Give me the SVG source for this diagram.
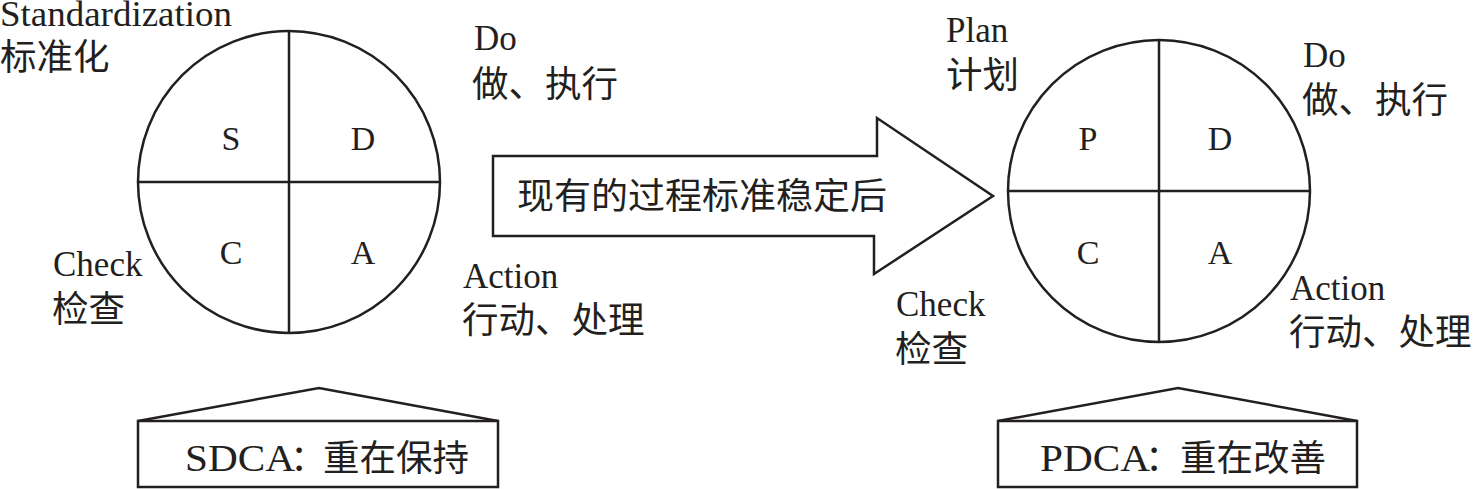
<svg xmlns="http://www.w3.org/2000/svg" width="1475" height="489" viewBox="0 0 1475 489">
<style>
.ln{fill:none;stroke:#231f20;stroke-width:2.5}
.sh{fill:#fff;stroke:#231f20;stroke-width:2.5}
.en{font-family:"Liberation Serif","Times New Roman",serif;font-size:35px;fill:#231f20}
.cj{font-family:"Noto Sans CJK SC","Liberation Serif",sans-serif;font-size:36.5px;fill:#231f20}
.ltr{font-family:"Liberation Serif","Times New Roman",serif;font-size:34px;fill:#231f20;text-anchor:middle}
.bx{font-family:"Liberation Serif","Times New Roman",serif;font-size:38px;fill:#231f20}
</style>
<rect width="1475" height="489" fill="#fff"/>
<g id="sdca-circle">
<circle class="ln" cx="289" cy="182" r="151"/>
<line class="ln" x1="289" y1="31" x2="289" y2="333"/>
<line class="ln" x1="138" y1="182" x2="440" y2="182"/>
<text class="ltr" x="231" y="150">S</text>
<text class="ltr" x="363" y="150">D</text>
<text class="ltr" x="231" y="264">C</text>
<text class="ltr" x="363" y="264">A</text>
</g>
<g id="sdca-labels">
<text class="en" x="0" y="26" textLength="232" lengthAdjust="spacingAndGlyphs">Standardization</text>
<text class="cj" x="0" y="70">标准化</text>
<text class="en" x="474" y="50">Do</text>
<text class="cj" x="472" y="97">做、执行</text>
<text class="en" x="53" y="276">Check</text>
<text class="cj" x="52" y="322">检查</text>
<text class="en" x="463" y="288">Action</text>
<text class="cj" x="462" y="333">行动、处理</text>
</g>
<g id="transition-arrow">
<polygon class="sh" points="493,156 877,156 877,118 993,196 874,274 874,236 493,236"/>
<text class="cj" x="517" y="209" textLength="370" lengthAdjust="spacingAndGlyphs">现有的过程标准稳定后</text>
</g>
<g id="pdca-circle">
<circle class="ln" cx="1159" cy="191" r="151"/>
<line class="ln" x1="1159" y1="40" x2="1159" y2="342"/>
<line class="ln" x1="1008" y1="191" x2="1310" y2="191"/>
<text class="ltr" x="1088" y="150">P</text>
<text class="ltr" x="1220" y="150">D</text>
<text class="ltr" x="1088" y="264">C</text>
<text class="ltr" x="1220" y="264">A</text>
</g>
<g id="pdca-labels">
<text class="en" x="946" y="42">Plan</text>
<text class="cj" x="946" y="88">计划</text>
<text class="en" x="1303" y="67">Do</text>
<text class="cj" x="1302" y="113">做、执行</text>
<text class="en" x="896" y="316">Check</text>
<text class="cj" x="895" y="362">检查</text>
<text class="en" x="1290" y="300">Action</text>
<text class="cj" x="1289" y="345">行动、处理</text>
</g>
<g id="sdca-box">
<polyline class="ln" points="138,421 319,388 498,421"/>
<rect class="ln" x="138" y="421" width="360" height="66"/>
<text class="bx" x="185" y="471" textLength="110" lengthAdjust="spacingAndGlyphs">SDCA</text>
<text class="cj" x="290" y="471">：</text>
<text class="cj" x="323" y="471">重在保持</text>
</g>
<g id="pdca-box">
<polyline class="ln" points="998,421 1178,388 1357,421"/>
<rect class="ln" x="998" y="421" width="359" height="66"/>
<text class="bx" x="1040" y="471" textLength="110" lengthAdjust="spacingAndGlyphs">PDCA</text>
<text class="cj" x="1145" y="471">：</text>
<text class="cj" x="1180" y="471">重在改善</text>
</g>
</svg>
